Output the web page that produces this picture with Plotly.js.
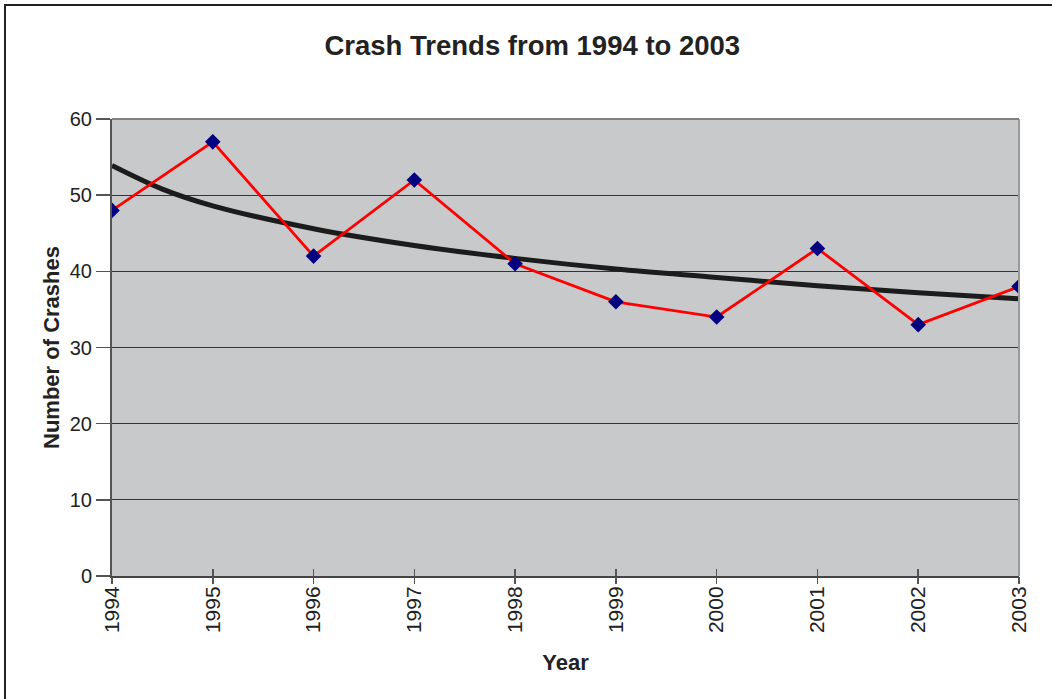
<!DOCTYPE html>
<html>
<head>
<meta charset="utf-8">
<script src="https://cdn.plot.ly/plotly-3.0.1.min.js"></script>
<style>
html,body{margin:0;padding:0;background:#fff;}
#wrap{position:relative;width:1052px;height:699px;overflow:hidden;}
#chart{width:1052px;height:699px;}
#frame{position:absolute;left:4px;top:4px;width:1060px;height:710px;border:2px solid #222;pointer-events:none;box-sizing:border-box;}
</style>
</head>
<body>
<div id="wrap"><div id="chart"></div><div id="frame"></div></div>
<script>
const years = [1994, 1995, 1996, 1997, 1998, 1999, 2000, 2001, 2002, 2003];
const crashes = [48, 57, 42, 52, 41, 36, 34, 43, 33, 38];
// trend line positions
const trendX = [1994, 1994.5, 1995, 1996, 1997, 1998, 1999, 2000, 2001, 2002, 2003];
const trendY = [53.9, 50.8, 48.6, 45.6, 43.4, 41.7, 40.3, 39.2, 38.1, 37.2, 36.4];
const yTicks = [0, 10, 20, 30, 40, 50, 60];

const FONT = 'Liberation Sans, Arial, sans-serif';

const traces = [
  {x: trendX, y: trendY, type: 'scatter', mode: 'lines',
   line: {color: '#1c1c1c', width: 5, shape: 'spline', smoothing: 1.0},
   hoverinfo: 'skip', showlegend: false},
  {x: years, y: crashes, type: 'scatter', mode: 'lines+markers',
   line: {color: '#ff0000', width: 2.8},
   marker: {symbol: 'diamond', color: '#000080', size: 12},
   showlegend: false},
  {x: [1994, 2003], y: [0, 0], xaxis: 'x2', yaxis: 'y', mode: 'none', type: 'scatter',
   showlegend: false, hoverinfo: 'skip'}
];

const layout = {
  width: 1052, height: 699,
  margin: {l: 112, r: 33, t: 119, b: 123},
  paper_bgcolor: '#ffffff',
  plot_bgcolor: '#c8c9cb',
  font: {family: FONT, color: '#222'},
  title: {text: '<b>Crash Trends from 1994 to 2003</b>', x: 0.506, xanchor: 'center',
          y: 0.935, yanchor: 'middle', yref: 'container',
          font: {size: 27.5, color: '#222', family: FONT}},
  xaxis: {
    range: [1994, 2003], tickvals: years, ticktext: years.map(String),
    tickangle: -90, ticks: 'inside', ticklen: 7, tickcolor: '#555', tickwidth: 1.5,
    showgrid: false, zeroline: false, showline: true, linecolor: '#444', linewidth: 2,
    tickfont: {size: 21, color: '#222'},
    title: {text: '<b>Year</b>', font: {size: 22, color: '#222'}, standoff: 22}
  },
  xaxis2: {
    overlaying: 'x', matches: 'x', range: [1994, 2003], tickvals: years,
    showticklabels: false, ticks: 'outside', ticklen: 7, tickcolor: '#555', tickwidth: 1.5,
    showgrid: false, zeroline: false, showline: false, anchor: 'y'
  },
  yaxis: {
    range: [0, 60], tickvals: yTicks, ticks: 'outside', ticklen: 14, tickcolor: '#555', tickwidth: 1.5,
    showgrid: true, gridcolor: '#333', gridwidth: 1,
    zeroline: false, showline: true, linecolor: '#555', linewidth: 2,
    tickfont: {size: 20, color: '#222'},
    title: {text: '<b>Number of Crashes</b>', font: {size: 22, color: '#222'}, standoff: 4}
  },
  shapes: [
    {type: 'line', xref: 'paper', yref: 'paper', x0: 1, x1: 1, y0: 0, y1: 1,
     line: {color: '#9a9a9a', width: 2}},
    {type: 'line', xref: 'paper', yref: 'paper', x0: 0, x1: 1, y0: 1, y1: 1,
     line: {color: '#808080', width: 2}}
  ]
};

Plotly.newPlot('chart', traces, layout, {displayModeBar: false, staticPlot: true});
</script>
</body>
</html>
